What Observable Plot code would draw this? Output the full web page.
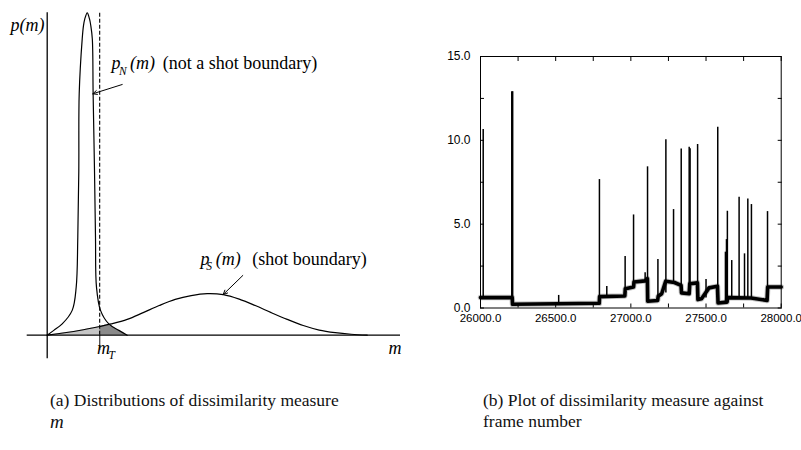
<!DOCTYPE html>
<html><head><meta charset="utf-8">
<script src="https://cdn.jsdelivr.net/npm/d3@7"></script>
<script src="https://cdn.jsdelivr.net/npm/@observablehq/plot@0.6"></script>
<style>
body{margin:0;background:#fff;}
#wrap{position:relative;width:801px;height:450px;overflow:hidden;background:#fff;}
#wrap svg{position:absolute;overflow:visible;}
.cap{position:absolute;font-family:"Liberation Serif","Times New Roman",serif;font-size:17.5px;color:#111;white-space:nowrap;line-height:1;}
.cap i{font-size:19px;}
</style></head><body><div id="wrap"></div>
<script>
// ---------- Panel (a): distributions of dissimilarity measure m ----------
// p_N(m): narrow peak (not a shot boundary)
const pNm = [0, 0.206, 0.469, 0.781, 0.906, 0.956, 0.9875, 1.0, 1.094, 1.134, 1.175, 1.25, 1.322, 1.3625, 1.41, 1.435, 1.478, 1.509, 1.54, 1.666, 1.925, 2.24, 2.5];
const pNp = [0, 0.015, 0.035, 0.077, 0.149, 0.304, 0.511, 0.749, 0.919, 0.96, 0.981, 1.0, 0.981, 0.96, 0.919, 0.749, 0.511, 0.304, 0.149, 0.077, 0.035, 0.015, 0];
// p_S(m): broad hump (shot boundary)
const pSm = [0, 1, 1.64, 2, 2.5, 3, 3.5, 4, 4.5, 5, 5.5, 6, 6.5, 7, 7.5, 8, 8.5, 9, 9.5, 10];
const pSp = [0, 0.0146, 0.027, 0.035, 0.049, 0.070, 0.092, 0.111, 0.123, 0.129, 0.126, 0.112, 0.092, 0.070, 0.049, 0.030, 0.016, 0.008, 0.003, 0];
// threshold m_T
const mT = 1.64;
// dark shaded region right of m_T (under the lower of the two curves)
const darkM = [1.64, 1.8, 1.95, 2.24, 2.5];
const darkP = [0.027, 0.031, 0.032, 0.014, 0];
// axis extents (in m and p units)
const axisP = [-0.0732, 1.0];
const mTtickP = -0.047;
// annotation texts
const italicText = ["p(m)", "p", "(m)", "p", "(m)", "m", "m"];
const italicM = [-1.147, 2.009, 2.5875, 4.791, 5.27, 1.556, 10.666];
const italicP = [0.945, 0.827, 0.827, 0.219, 0.219, -0.0568, -0.0568];
const subText = ["N", "S", "T"];
const subM = [2.244, 4.97, 1.916];
const subP = [0.808, 0.201, -0.0738];
const romanText = ["(not a shot boundary)", "(shot boundary)"];
const romanM = [3.6125, 6.406];
const romanP = [0.827, 0.219];
const arrowM1 = [2.344, 6.1125], arrowP1 = [0.7776, 0.1852];
const arrowM2 = [1.425, 5.5], arrowP2 = [0.7488, 0.1262];

// ---------- Panel (b): dissimilarity vs frame number ----------
const levelFrame = [26000, 26211, 26213, 26515, 26790, 26792, 26960, 26963, 27018, 27021, 27095, 27110, 27112, 27178, 27182, 27205, 27232, 27290, 27334, 27337, 27388, 27392, 27443, 27446, 27470, 27520, 27576, 27580, 27640, 27644, 27800, 27906, 27910, 28000];
const levelValue = [0.62, 0.62, 0.22, 0.25, 0.28, 0.68, 0.72, 1.15, 1.25, 1.55, 1.62, 1.75, 0.4, 0.45, 0.7, 0.85, 1.6, 1.52, 1.35, 0.9, 0.85, 1.45, 1.5, 0.5, 0.55, 1.2, 1.3, 0.3, 0.35, 0.62, 0.6, 0.45, 1.25, 1.25];
const spikeFrame = [26018, 26208, 26214, 26520, 26791, 26840, 26962, 27018, 27095, 27111, 27180, 27233, 27284, 27335, 27388, 27394, 27444, 27500, 27578, 27629, 27636, 27642, 27671, 27720, 27756, 27778, 27802, 27909];
const spikeBase  = [0.6, 0.6, 0.3, 0.25, 0.3, 0.68, 0.7, 1.2, 1.6, 0.4, 0.45, 0.9, 1.5, 0.9, 0.85, 0.9, 0.5, 0.6, 0.3, 0.3, 0.3, 0.3, 0.6, 0.6, 0.6, 0.6, 0.6, 0.45];
const spikePeak  = [10.64, 12.9, 12.9, 0.75, 7.66, 1.28, 3.07, 5.55, 2.1, 8.42, 2.89, 10.03, 5.87, 9.49, 9.59, 9.5, 9.75, 1.7, 10.78, 3.33, 4.08, 5.77, 2.83, 6.6, 3.23, 6.5, 6.17, 5.75];
const yTicksMinor = [0, 2.5, 5, 7.5, 10, 12.5, 15];
const yTicksMajor = [0, 5, 10, 15];
const xTicksMinor = [26000, 26250, 26500, 26750, 27000, 27250, 27500, 27750, 28000];
const xTicksMajor = [26000, 26500, 27000, 27500, 28000];

// ---------- build ----------
const zip = (a, b) => a.map((v, i) => ({x: v, y: b[i]}));
const pN = zip(pNm, pNp), pS = zip(pSm, pSp);
const light = pS.filter(d => d.x <= mT);
const dark = zip(darkM, darkP);
const italics = italicText.map((t, i) => ({t, x: italicM[i], y: italicP[i]}));
const subs = subText.map((t, i) => ({t, x: subM[i], y: subP[i]}));
const romans = romanText.map((t, i) => ({t, x: romanM[i], y: romanP[i]}));
const arrows = arrowM1.map((v, i) => ({x1: v, y1: arrowP1[i], x2: arrowM2[i], y2: arrowP2[i]}));
const serif = '"Liberation Serif","Times New Roman",serif';

const plotA = Plot.plot({
  width: 400, height: 360,
  marginLeft: 26.7, marginRight: 0, marginTop: 12.3, marginBottom: 25.3,
  x: {domain: [-0.625, 11.04], axis: null},
  y: {domain: [0, 1], axis: null},
  style: {fontFamily: serif, fontSize: "18px", background: "transparent", color: "#000"},
  marks: [
    Plot.areaY(light, {x: "x", y: "y", fill: "#c6c6c6", curve: "catmull-rom"}),
    Plot.areaY(dark, {x: "x", y: "y", fill: "#8a8a8a", curve: "catmull-rom"}),
    Plot.ruleX([mT], {y1: 0, y2: 1, stroke: "#000", strokeWidth: 1.1, strokeDasharray: "4,2"}),
    Plot.ruleX([mT], {y1: 0, y2: mTtickP, stroke: "#555", strokeWidth: 1.4}),
    Plot.line(pS, {x: "x", y: "y", curve: "catmull-rom", stroke: "#000", strokeWidth: 1.2}),
    Plot.line(pN, {x: "x", y: "y", curve: "catmull-rom", stroke: "#000", strokeWidth: 1.2}),
    Plot.ruleY([0], {stroke: "#000", strokeWidth: 1.3}),
    Plot.ruleX([0], {y1: axisP[0], y2: axisP[1], stroke: "#000", strokeWidth: 1.3}),
    Plot.arrow(arrows, {x1: "x1", y1: "y1", x2: "x2", y2: "y2", stroke: "#000", strokeWidth: 1, headLength: 7, headAngle: 50}),
    Plot.text(italics, {x: "x", y: "y", text: "t", textAnchor: "start", lineAnchor: "bottom", fontStyle: "italic", fontSize: 18, fill: "#000"}),
    Plot.text(subs, {x: "x", y: "y", text: "t", textAnchor: "start", lineAnchor: "bottom", fontStyle: "italic", fontSize: 11.5, fill: "#000"}),
    Plot.text(romans, {x: "x", y: "y", text: "t", textAnchor: "start", lineAnchor: "bottom", fontSize: 18, fill: "#000"})
  ]
});
plotA.style.left = "0px"; plotA.style.top = "0px";

const level = zip(levelFrame, levelValue);
const spikes = spikeFrame.map((f, i) => ({f, b: spikeBase[i], p: spikePeak[i]}));
const blank = () => "";
const sans = '"Liberation Sans", Arial, sans-serif';
const plotB = Plot.plot({
  width: 370, height: 290,
  marginLeft: 50, marginRight: 19.3, marginTop: 16, marginBottom: 22.5,
  x: {domain: [26000, 28000]},
  y: {domain: [0, 15]},
  style: {fontFamily: sans, fontSize: "12px", background: "transparent", color: "#000"},
  marks: [
    Plot.line(level, {x: "x", y: "y", stroke: "#999", strokeOpacity: 0.6, strokeWidth: 5.5}),
    Plot.line(level, {x: "x", y: "y", stroke: "#000", strokeWidth: 3.6}),
    Plot.ruleX(spikes, {x: "f", y1: "b", y2: "p", stroke: "#000", strokeWidth: 1.5}),
    Plot.frame({stroke: "#000", strokeWidth: 1}),
    Plot.axisY(yTicksMinor, {anchor: "left", tickSize: -4, tickFormat: blank, label: null}),
    Plot.axisY(yTicksMinor, {anchor: "right", tickSize: -4, tickFormat: blank, label: null}),
    Plot.axisX(xTicksMinor, {anchor: "top", tickSize: -4, tickFormat: blank, label: null}),
    Plot.axisX(xTicksMinor, {anchor: "bottom", tickSize: -4, tickFormat: blank, label: null}),
    Plot.axisY(yTicksMajor, {anchor: "left", tickSize: 0, tickPadding: 10, tickFormat: d => d.toFixed(1), label: null, fontSize: 12, fontFamily: sans}),
    Plot.axisX(xTicksMajor, {anchor: "bottom", tickSize: 0, tickPadding: 5.5, tickFormat: d => d.toFixed(1), label: null, fontSize: 11.5, fontFamily: sans})
  ]
});
plotB.style.left = "430px"; plotB.style.top = "40px";

const wrap = document.getElementById("wrap");
wrap.appendChild(plotA);
wrap.appendChild(plotB);
const caps = [
  {html: "(a) Distributions of dissimilarity measure", left: 50, top: 392},
  {html: "<i>m</i>", left: 50, top: 412},
  {html: "(b) Plot of dissimilarity measure against", left: 483, top: 392},
  {html: "frame number", left: 483, top: 413}
];
for (const c of caps) {
  const d = document.createElement("div");
  d.className = "cap"; d.innerHTML = c.html;
  d.style.left = c.left + "px"; d.style.top = c.top + "px";
  wrap.appendChild(d);
}
</script></body></html>
